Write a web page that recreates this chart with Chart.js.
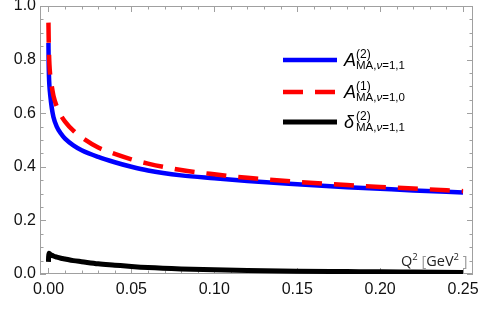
<!DOCTYPE html>
<html><head><meta charset="utf-8">
<script src="https://cdn.jsdelivr.net/npm/chart.js@4"></script>
<style>html,body{margin:0;padding:0;background:#fff}#wrap{width:482px;height:315px}</style>
</head><body><div id="wrap"><canvas id="c" width="482" height="315"></canvas></div>
<script>
// Q^2 grid (GeV^2)
const q2 = [0, 0.0001, 0.0003, 0.0006, 0.001, 0.002, 0.003, 0.005, 0.0075, 0.01, 0.015, 0.02, 0.03, 0.04, 0.05, 0.06, 0.08, 0.10, 0.12, 0.15, 0.18, 0.20, 0.22, 0.25];
// A^(2)_{MA,nu=1,1}
const aMA2 = [0.862, 0.80, 0.74, 0.70, 0.672, 0.62, 0.586, 0.55, 0.524, 0.505, 0.480, 0.462, 0.437, 0.417, 0.400, 0.386, 0.368, 0.357, 0.347, 0.335, 0.324, 0.318, 0.312, 0.304];
// A^(1)_{MA,nu=1,0}
const aMA1 = [0.938, 0.89, 0.83, 0.78, 0.745, 0.70, 0.665, 0.625, 0.592, 0.569, 0.535, 0.51, 0.472, 0.448, 0.428, 0.412, 0.388, 0.372, 0.359, 0.344, 0.332, 0.325, 0.319, 0.309];
// delta^(2)_{MA,nu=1,1}
const dMA2 = [0.045, 0.065, 0.077, 0.076, 0.074, 0.070, 0.067, 0.063, 0.059, 0.056, 0.050, 0.046, 0.038, 0.033, 0.028, 0.024, 0.019, 0.016, 0.013, 0.0105, 0.009, 0.008, 0.0072, 0.006];

const xTicks = [0, 0.05, 0.10, 0.15, 0.20, 0.25];
const yTicks = [0, 0.2, 0.4, 0.6, 0.8, 1.0];
const xMinorStep = 0.01;
const yMinorStep = 0.05;

const pts = ys => q2.map((x, i) => ({x: x, y: ys[i]}));

const framePlugin = {
  id: 'frame',
  beforeDatasetsDraw(chart) {
    const {ctx, chartArea: a, scales: {x, y}} = chart;
    ctx.save();
    ctx.strokeStyle = '#a0a0a0';
    ctx.lineWidth = 1;
    ctx.strokeRect(a.left + 0.5, a.top + 0.5, a.right - a.left - 1, a.bottom - a.top - 1);
    ctx.beginPath();
    const nx = Math.round((xTicks[xTicks.length-1] - xTicks[0]) / xMinorStep);
    for (let i = 0; i <= nx; i++) {
      const v = xTicks[0] + i * xMinorStep;
      const major = i % 5 === 0;
      const L = major ? 6 : 3.5;
      const px = Math.round(x.getPixelForValue(v)) + 0.5;
      ctx.moveTo(px, a.bottom); ctx.lineTo(px, a.bottom - L);
      ctx.moveTo(px, a.top); ctx.lineTo(px, a.top + L);
    }
    const ny = Math.round((yTicks[yTicks.length-1] - yTicks[0]) / yMinorStep);
    for (let i = 0; i <= ny; i++) {
      const v = yTicks[0] + i * yMinorStep;
      const major = i % 4 === 0;
      const L = major ? 6 : 3.5;
      const py = Math.round(y.getPixelForValue(v)) + 0.5;
      ctx.moveTo(a.left, py); ctx.lineTo(a.left + L, py);
      ctx.moveTo(a.right, py); ctx.lineTo(a.right - L, py);
    }
    ctx.stroke();
    ctx.restore();
  },
  afterDraw(chart) {
    const ctx = chart.ctx;
    ctx.save();
    // legend
    const entries = [
      {y: 60, color: '#0000ff', dash: [], w: 4.5, sym: 'A', sup: '(2)', sub: ['MA,', 'ν', '=1,1']},
      {y: 92, color: '#ff0000', dash: [20, 12], w: 4.5, sym: 'A', sup: '(1)', sub: ['MA,', 'ν', '=1,0']},
      {y: 122, color: '#000000', dash: [], w: 5, sym: 'δ', sup: '(2)', sub: ['MA,', 'ν', '=1,1']}
    ];
    for (const e of entries) {
      ctx.beginPath();
      ctx.strokeStyle = e.color; ctx.lineWidth = e.w; ctx.setLineDash(e.dash); ctx.lineCap = 'butt';
      ctx.moveTo(283, e.y); ctx.lineTo(337, e.y); ctx.stroke();
      ctx.setLineDash([]);
      ctx.fillStyle = '#000';
      ctx.textBaseline = 'alphabetic'; ctx.textAlign = 'left';
      ctx.font = 'italic 18px "Liberation Sans"';
      ctx.fillText(e.sym, 344, e.y + 6);
      ctx.font = '12px "Liberation Sans"';
      ctx.fillText(e.sup, 356, e.y - 2);
      let sx = 356;
      const parts = [['11.5px "Liberation Sans"', e.sub[0]], ['italic 11.5px "Liberation Sans"', e.sub[1]], ['11.5px "Liberation Sans"', e.sub[2]]];
      for (const [f, t] of parts) {
        ctx.font = f; ctx.fillText(t, sx, e.y + 9); sx += ctx.measureText(t).width;
      }
    }
    // axis label
    let lx = 401;
    const by = 266;
    const seg = [
      ['14.5px "Open Sans"', '#222', 'Q', 0],
      ['9.5px "Open Sans"', '#222', '2', -6],
      ['14.5px "Open Sans"', '#999', ' [', 0],
      ['14.5px "Open Sans"', '#222', 'GeV', 0],
      ['9.5px "Open Sans"', '#222', '2', -6],
      ['14.5px "Open Sans"', '#999', ' ]', 0]
    ];
    for (const [f, c, t, dy] of seg) {
      ctx.font = f; ctx.fillStyle = c; ctx.fillText(t, lx, by + dy); lx += ctx.measureText(t).width;
    }
    ctx.restore();
  }
};

new Chart(document.getElementById('c'), {
  type: 'line',
  data: {
    datasets: [
      {data: pts(aMA2), borderColor: '#0000ff', borderWidth: 4.5, order: 3},
      {data: pts(aMA1), borderColor: '#ff0000', borderWidth: 4.5, borderDash: [20, 12], order: 2},
      {data: pts(dMA2), borderColor: '#000000', borderWidth: 5, order: 1}
    ]
  },
  options: {
    responsive: false,
    animation: false,
    devicePixelRatio: 1,
    layout: {padding: {top: 6, right: 9, left: 0, bottom: 0}},
    elements: {point: {radius: 0}, line: {cubicInterpolationMode: 'monotone', fill: false}},
    plugins: {legend: {display: false}, tooltip: {enabled: false}},
    scales: {
      x: {
        type: 'linear', min: -0.0051, max: 0.256,
        grid: {display: false, drawTicks: false}, border: {display: false},
        afterBuildTicks: s => { s.ticks = xTicks.map(v => ({value: v})); },
        afterFit: s => { s.height = 41; s.paddingLeft = 0; s.paddingRight = 0; },
        ticks: {padding: 6, color: '#111', font: {family: 'Liberation Sans', size: 16}, maxRotation: 0,
          callback: v => v.toFixed(2)}
      },
      y: {
        type: 'linear', min: 0, max: 1,
        grid: {display: false, drawTicks: false}, border: {display: false},
        afterBuildTicks: s => { s.ticks = yTicks.map(v => ({value: v})); },
        afterFit: s => { s.width = 40; s.paddingTop = 0; s.paddingBottom = 0; },
        ticks: {padding: 4, color: '#111', font: {family: 'Liberation Sans', size: 16},
          callback: v => v.toFixed(1)}
      }
    }
  },
  plugins: [framePlugin]
});
</script>
</body></html>
